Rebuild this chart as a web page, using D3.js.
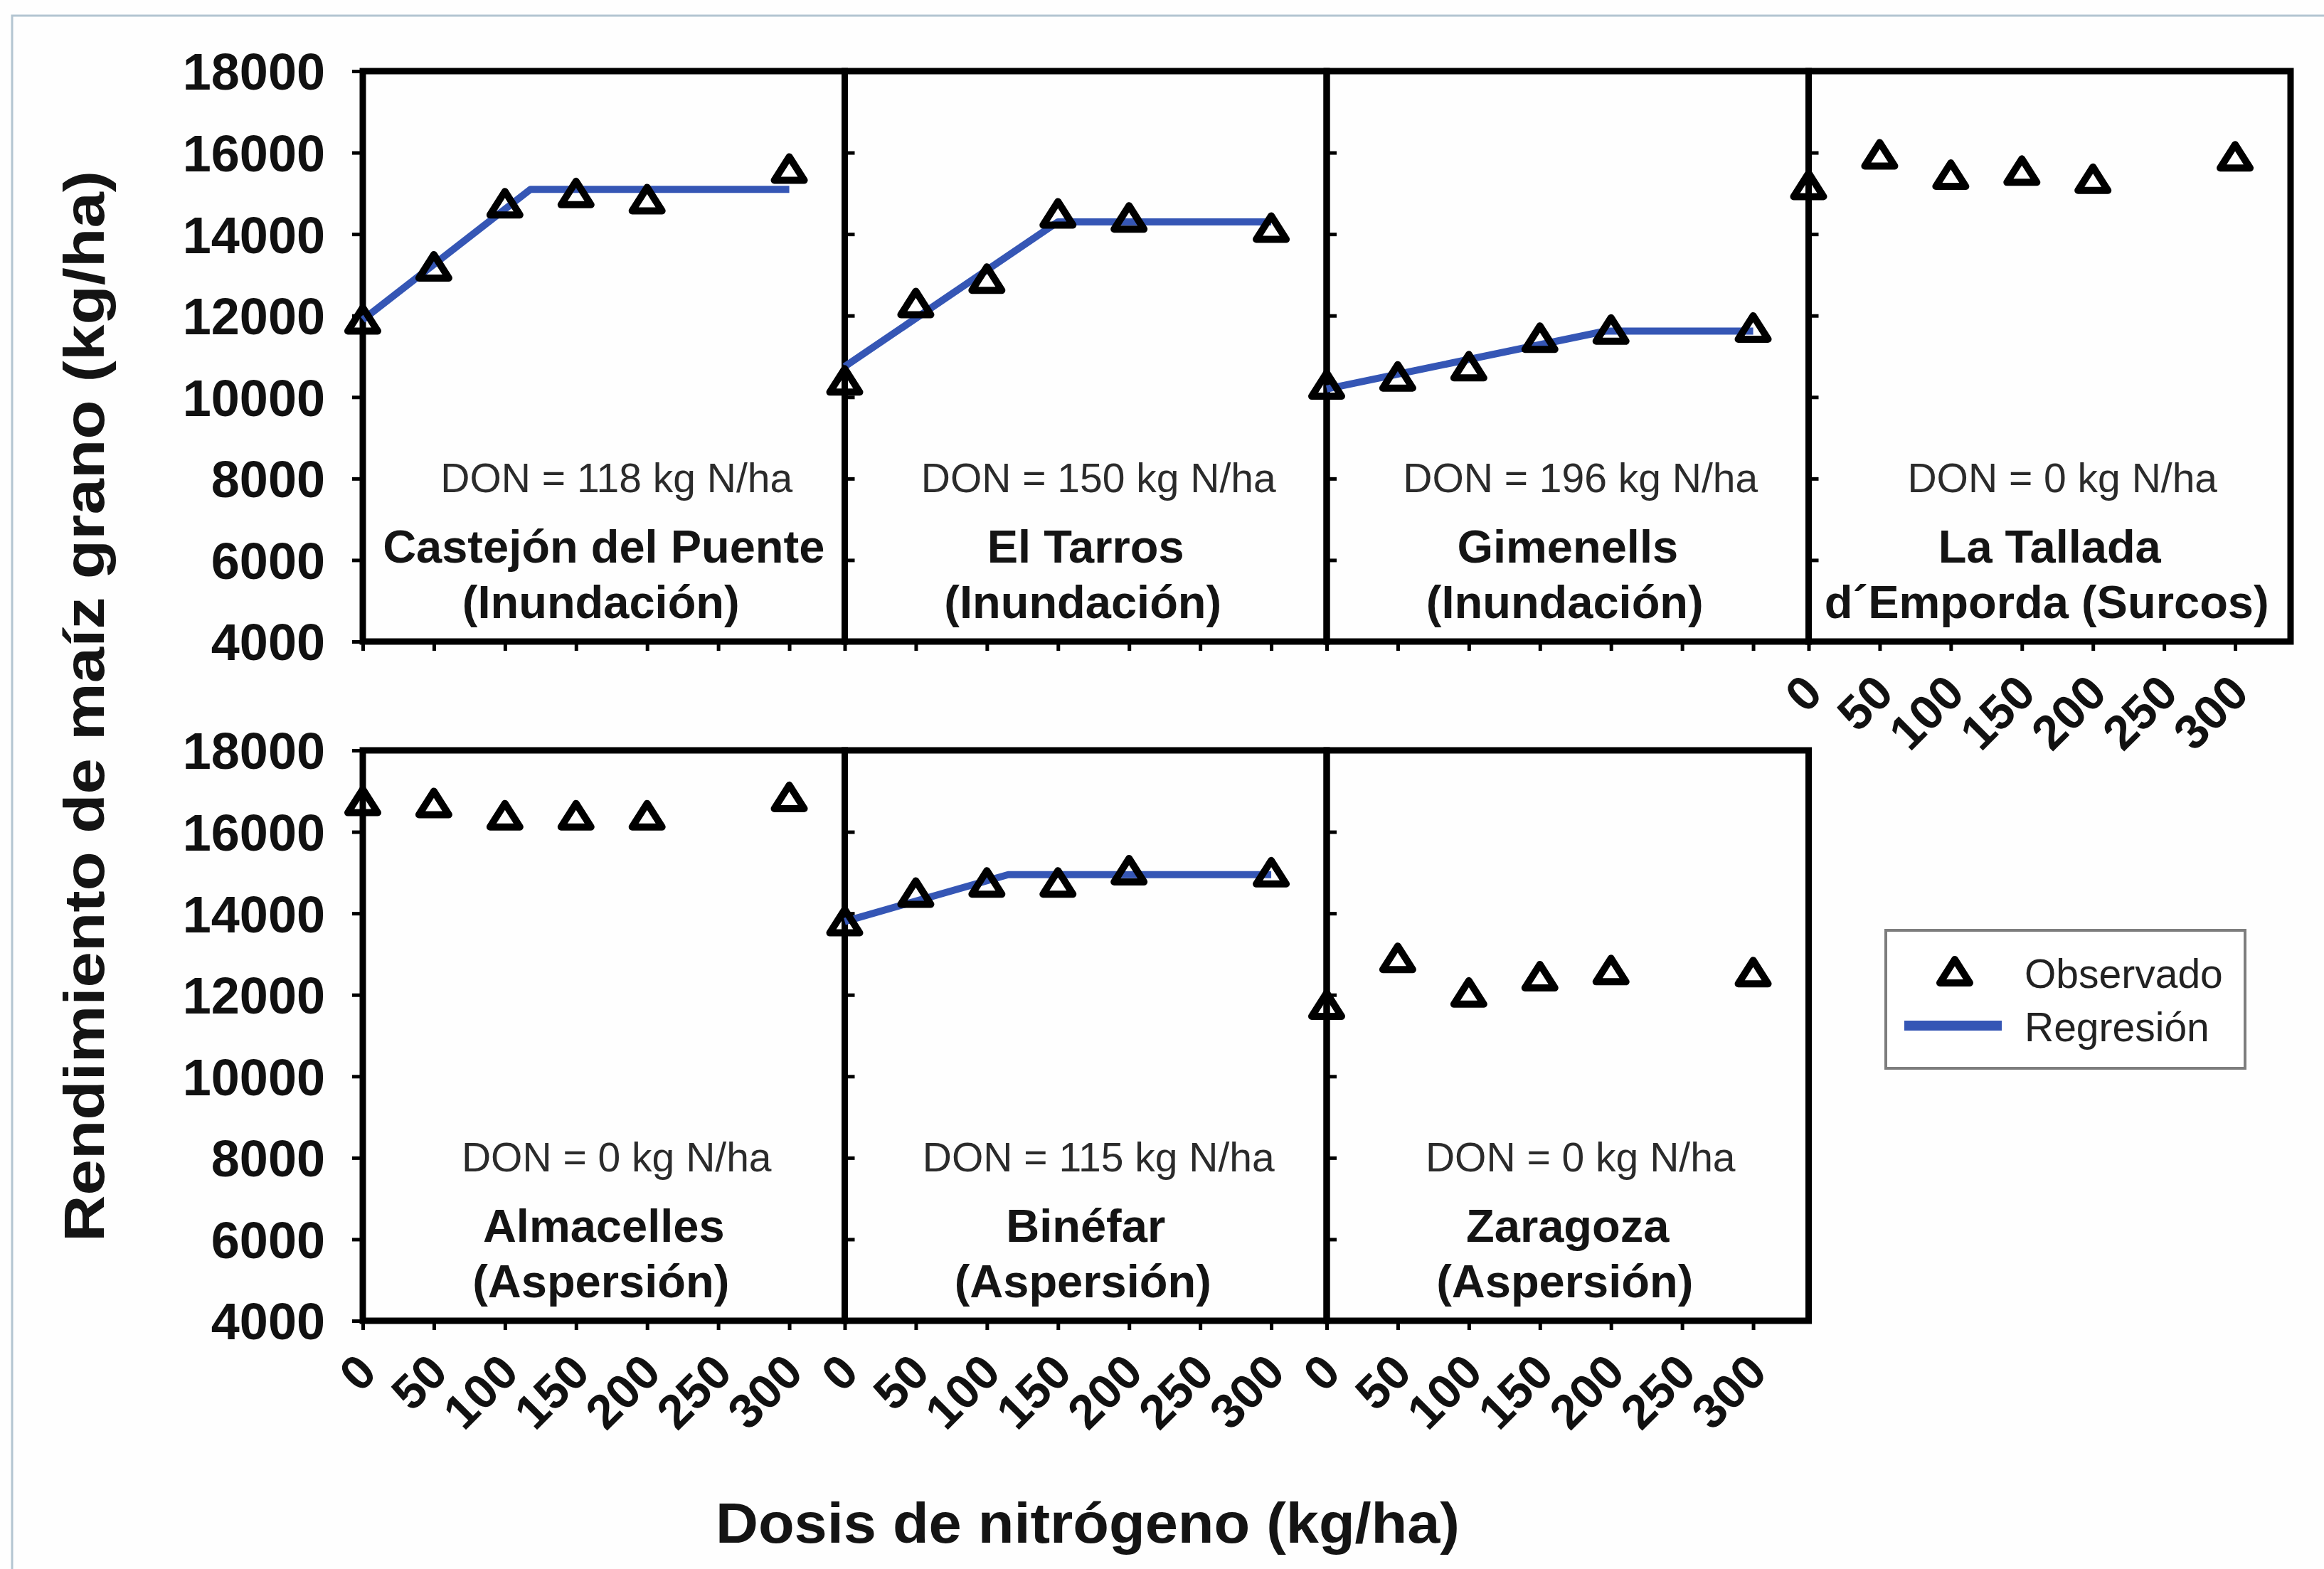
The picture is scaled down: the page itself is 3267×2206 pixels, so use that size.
<!DOCTYPE html>
<html><head><meta charset="utf-8">
<script src="https://cdn.jsdelivr.net/npm/d3@7"></script>
<style>body{margin:0;background:#fefefe} svg{display:block}</style>
</head><body><svg id="c" width="3267" height="2206"></svg>
<script>
// ---- data ----
const sites = ["Castejón del Puente", "El Tarros", "Gimenells", "La Tallada", "Almacelles", "Binéfar", "Zaragoza"];
const subtitles = ["(Inundación)", "(Inundación)", "(Inundación)", "d´Emporda (Surcos)", "(Aspersión)", "(Aspersión)", "(Aspersión)"];
const donValues = [118, 150, 196, 0, 0, 115, 0];
const doses = [0, 50, 100, 150, 200, 300];
const xTicks = [0, 50, 100, 150, 200, 250, 300];
const yTicks = [4000, 6000, 8000, 10000, 12000, 14000, 16000, 18000];
const obsCastejon   = [11900, 13200, 14750, 15000, 14850, 15600];
const obsElTarros   = [10400, 12300, 12900, 14500, 14400, 14150];
const obsGimenells  = [10300, 10500, 10750, 11450, 11650, 11700];
const obsLaTallada  = [15200, 15950, 15450, 15550, 15350, 15900];
const obsAlmacelles = [16750, 16700, 16400, 16400, 16400, 16850];
const obsBinefar    = [13800, 14500, 14750, 14750, 15050, 15000];
const obsZaragoza   = [11750, 12900, 12050, 12450, 12600, 12550];
const observed = [obsCastejon, obsElTarros, obsGimenells, obsLaTallada, obsAlmacelles, obsBinefar, obsZaragoza];
// regression (linear-plateau): yield at 0 and plateau yield reached at DON
const regStart   = [11900, 10750, 10200, null, null, 13800, null];
const regPlateau = [15100, 14300, 11620, null, null, 14950, null];
const legendLabels = ["Observado", "Regresión"];

// ---- layout ----
const svg = d3.select("#c");
const FONT = "Arial, 'Liberation Sans', Helvetica, sans-serif";
const BLUE = "#3556b5";
const left0 = 510, panelW = 677.5, panelH = 802;
const rowTops = [100, 1055];
const tri = "M0,-17L21,16L-21,16Z";

svg.append("rect").attr("x", 17).attr("y", 22).attr("width", 3300).attr("height", 2300)
  .attr("fill", "none").attr("stroke", "#b3c5d1").attr("stroke-width", 3);

sites.forEach((site, i) => {
  const row = i < 4 ? 0 : 1;
  const col = i < 4 ? i : i - 4;
  const x0 = left0 + col * panelW;
  const top = rowTops[row];
  const x = d3.scaleLinear().domain([0, 339]).range([x0, x0 + panelW]);
  const y = d3.scaleLinear().domain([4000, 18000]).range([top + panelH, top]);
  const g = svg.append("g");

  // y axis
  const ya = d3.axisLeft(y).tickValues(yTicks).tickSizeOuter(0)
    .tickSize(col === 0 ? 15 : -14).tickPadding(col === 0 ? 38 : 0)
    .tickFormat(col === 0 ? d3.format("d") : () => "");
  const yg = g.append("g").attr("transform", `translate(${x0},0)`).call(ya);
  yg.select(".domain").remove();
  yg.selectAll("line").attr("stroke", "#000").attr("stroke-width", 5);
  yg.selectAll("text").attr("font-family", FONT).attr("font-weight", "bold")
    .attr("font-size", 72).attr("fill", "#111").attr("dy", "0.36em");

  // x axis
  const showX = row === 1 || col === 3;
  const xa = d3.axisBottom(x).tickValues(xTicks).tickSize(13).tickSizeOuter(0)
    .tickFormat(showX ? d3.format("d") : () => "");
  const xg = g.append("g").attr("transform", `translate(0,${top + panelH})`).call(xa);
  xg.select(".domain").remove();
  xg.selectAll("line").attr("stroke", "#000").attr("stroke-width", 5);
  xg.selectAll("text").attr("font-family", FONT).attr("font-weight", "bold")
    .attr("font-size", 68).attr("fill", "#111").attr("text-anchor", "end")
    .attr("x", 0).attr("y", 0).attr("dy", 0)
    .attr("transform", "translate(22,76) rotate(-45)");

  // box
  g.append("rect").attr("x", x0).attr("y", top).attr("width", panelW).attr("height", panelH)
    .attr("fill", "none").attr("stroke", "#000").attr("stroke-width", 9);

  // regression
  if (regStart[i] !== null) {
    const pts = [[0, regStart[i]], [donValues[i], regPlateau[i]], [300, regPlateau[i]]];
    g.append("path").attr("d", d3.line().x(d => x(d[0])).y(d => y(d[1]))(pts))
      .attr("fill", "none").attr("stroke", BLUE).attr("stroke-width", 10)
      .attr("stroke-linejoin", "round");
  }

  // observed
  g.selectAll(".m").data(doses.map((d, k) => [d, observed[i][k]])).enter().append("path")
    .attr("d", tri).attr("transform", d => `translate(${x(d[0])},${y(d[1])})`)
    .attr("fill", "none").attr("stroke", "#000").attr("stroke-width", 10)
    .attr("stroke-linejoin", "round");

  // texts
  const cx = x0 + panelW / 2;
  g.append("text").attr("x", cx + 18).attr("y", top + 571).attr("dy", "0.36em")
    .attr("text-anchor", "middle").attr("font-family", FONT).attr("font-size", 57)
    .attr("fill", "#2b2b2b").text(`DON = ${donValues[i]} kg N/ha`);
  g.append("text").attr("x", cx).attr("y", top + 668).attr("dy", "0.36em")
    .attr("text-anchor", "middle").attr("font-family", FONT).attr("font-size", 65)
    .attr("font-weight", "bold").attr("fill", "#141414").text(site);
  g.append("text").attr("x", cx - 4).attr("y", top + 746).attr("dy", "0.36em")
    .attr("text-anchor", "middle").attr("font-family", FONT).attr("font-size", 65)
    .attr("font-weight", "bold").attr("fill", "#141414").text(subtitles[i]);
});

// axis titles
svg.append("text").attr("transform", "translate(117,993) rotate(-90)").attr("dy", "0.36em")
  .attr("text-anchor", "middle").attr("font-family", FONT).attr("font-size", 80)
  .attr("font-weight", "bold").attr("fill", "#141414")
  .attr("textLength", 1506).attr("lengthAdjust", "spacingAndGlyphs")
  .text("Rendimiento de maíz  grano (kg/ha)");
svg.append("text").attr("x", 1529).attr("y", 2140).attr("dy", "0.36em")
  .attr("text-anchor", "middle").attr("font-family", FONT).attr("font-size", 80)
  .attr("font-weight", "bold").attr("fill", "#141414")
  .attr("textLength", 1046).attr("lengthAdjust", "spacingAndGlyphs")
  .text("Dosis de nitrógeno (kg/ha)");

// legend
const lg = svg.append("g");
lg.append("rect").attr("x", 2651).attr("y", 1308).attr("width", 505).attr("height", 194)
  .attr("fill", "#fff").attr("stroke", "#7d7d7d").attr("stroke-width", 4);
lg.append("path").attr("d", tri).attr("transform", "translate(2748,1366)")
  .attr("fill", "none").attr("stroke", "#000").attr("stroke-width", 10).attr("stroke-linejoin", "round");
lg.append("line").attr("x1", 2677).attr("x2", 2814).attr("y1", 1442).attr("y2", 1442)
  .attr("stroke", BLUE).attr("stroke-width", 14);
legendLabels.forEach((t, k) => {
  lg.append("text").attr("x", 2846).attr("y", k === 0 ? 1368 : 1443).attr("dy", "0.36em")
    .attr("font-family", FONT).attr("font-size", 57).attr("fill", "#222").text(t);
});
</script></body></html>
